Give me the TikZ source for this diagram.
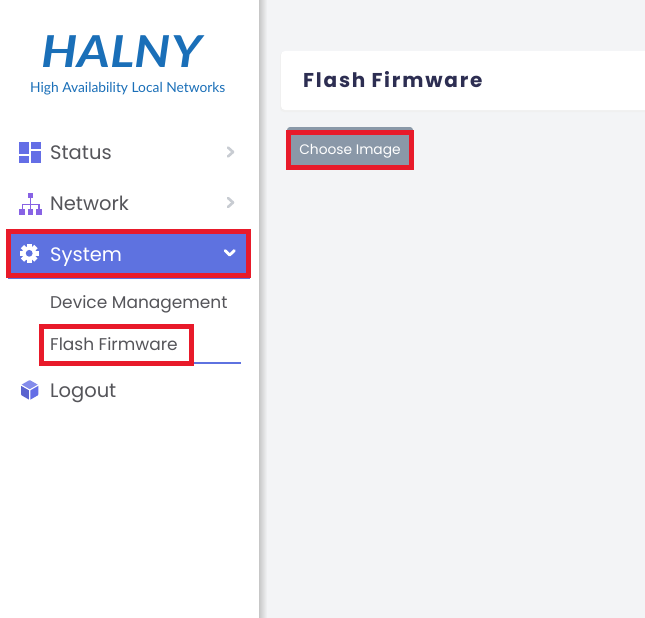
\documentclass[tikz,border=0pt]{standalone}
\usepackage{fontspec}
\setmainfont{Poppins}
\newfontfamily\logofont{Lato}
\newfontfamily\titlefont[LetterSpace=9]{Poppins}
\usetikzlibrary{positioning}
\definecolor{pagebg}{RGB}{243, 244, 246}
\definecolor{halnyblue}{RGB}{26, 111, 184}
\definecolor{menublue}{RGB}{94, 114, 224}
\definecolor{menugray}{RGB}{85, 85, 90}
\definecolor{chevgray}{RGB}{200, 204, 210}
\definecolor{iconblue}{RGB}{100, 110, 230}
\definecolor{iconpurple}{RGB}{135, 98, 228}
\definecolor{marker}{RGB}{232, 26, 42}
\definecolor{titlenavy}{RGB}{45, 46, 82}
\definecolor{btngray}{RGB}{138, 152, 168}

\begin{document}
\begin{tikzpicture}[x=1pt, y=-1pt, line cap=round, line join=round,
	menutext/.style={anchor=base west, inner sep=0pt, text=menugray, font=\fontsize{19.5}{24}\selectfont},
	subtext/.style={anchor=base west, inner sep=0pt, text=menugray, font=\fontsize{17}{21}\selectfont},
	chevron/.style={line width=2.6pt, chevgray},
	markbox/.style={draw=marker, line width=5pt, line cap=butt, line join=miter}]
	\useasboundingbox (0,0) rectangle (645,618);

	% backgrounds: main area and sidebar with its shadow
	\fill[pagebg] (0,0) rectangle (645,618);
	\fill[white] (0,0) rectangle (259,618);
	\shade[left color=black!22, right color=pagebg] (259,0) rectangle (267,618);

	% logo
	\node[anchor=base west, inner sep=0pt, text=halnyblue, font=\logofont\fontsize{44}{48}\selectfont\bfseries\itshape] (logo) at (41,67) {\scalebox{1.15}[1]{HALNY}};
	\node[anchor=base west, inner sep=0pt, text=halnyblue, font=\logofont\fontsize{13.8}{16}\selectfont] (tagline) at (30,92.7) {High Availability Local Networks};

	% Status
	\fill[iconblue] (19.3,141.7) rectangle (29.3,154);
	\fill[iconblue] (31,141.7) rectangle (40.5,149.3);
	\fill[iconblue] (19.3,156) rectangle (29.3,163);
	\fill[iconblue] (31,151) rectangle (40.5,163);
	\node[menutext] (status) at (50,159.3) {Status};
	\draw[chevron] (228,147.5) -- (233,152) -- (228,156.5);

	% Network
	\fill[iconpurple] (27.7,193.3) rectangle (32.7,198.3);
	\draw[iconpurple, line width=1.4pt, line cap=butt] (30.2,198) -- (30.2,209) (22.2,204.5) -- (38.8,204.5) (22.2,204) -- (22.2,209) (38.8,204) -- (38.8,209);
	\foreach \x in {19.3, 27.7, 36} {
		\fill[iconpurple] (\x,209.3) rectangle ++(5.5,5.7);
	}
	\node[menutext] (network) at (50,210) {Network};
	\draw[chevron] (228,198) -- (233,202.5) -- (228,207);

	% System (active)
	\fill[menublue] (8,232) rectangle (250,279);
	\fill[white] (29.2,253.3) circle (7);
	\foreach \a in {0,45,...,315} {
		\fill[white, rotate around={\a:(29.2,253.3)}] (26.9,243.8) rectangle (31.5,248);
	}
	\fill[menublue] (29.2,253.3) circle (3.4);
	\node[menutext, text=white] (system) at (50,261.7) {System};
	\draw[line width=2.8pt, white] (225,250.5) -- (229.7,255) -- (234.4,250.5);
	\draw[markbox] (8.5,231.8) rectangle (248.5,275.8);

	% sub menu
	\node[subtext] (devmgmt) at (50,308.3) {Device Management};
	\node[subtext] (flashfw) at (50,350) {Flash Firmware};
	\draw[menublue, line width=2pt, line cap=butt] (40,362.5) -- (241,362.5);
	\draw[markbox] (41.8,326.8) rectangle (191.8,363.5);

	% Logout
	\fill[iconblue!80!white, rounded corners=0.8pt] (29.7,380) -- (38.4,385) -- (29.7,390) -- (21,385) -- cycle;
	\fill[iconblue, rounded corners=0.8pt] (38.4,385) -- (38.4,395) -- (29.7,400) -- (29.7,390) -- cycle;
	\fill[iconblue!90!black, rounded corners=0.8pt] (21,385) -- (29.7,390) -- (29.7,400) -- (21,395) -- cycle;
	\draw[white, line width=1.1pt] (21,385) -- (29.7,390) -- (38.4,385) (29.7,390) -- (29.7,400);
	\node[menutext] (logout) at (50,397.3) {Logout};

	% title card
	\fill[black!6, rounded corners=4pt] (280,52) rectangle (660,112);
	\fill[white, rounded corners=4pt] (281,51) rectangle (660,110);
	\node[anchor=base west, inner sep=0pt, text=titlenavy, font=\titlefont\fontsize{20}{24}\selectfont\bfseries] (title) at (303,88) {Flash Firmware};

	% button
	\fill[btngray, rounded corners=3pt] (287,127) rectangle (413,168);
	\node[anchor=base, inner sep=0pt, text=white, font=\fontsize{13.8}{17}\selectfont] (choose) at (350,154.3) {Choose Image};
	\draw[markbox] (288.5,132.5) rectangle (411.5,167.5);
\end{tikzpicture}
\end{document}
